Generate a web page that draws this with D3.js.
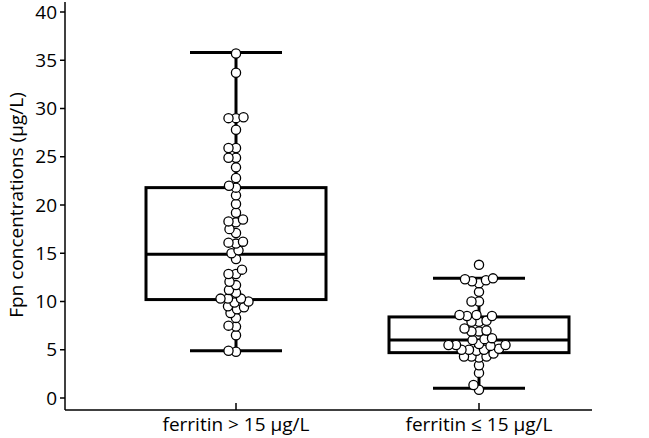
<!DOCTYPE html>
<html><head><meta charset="utf-8">
<script src="https://cdn.jsdelivr.net/npm/d3@7"></script>
<style>body{margin:0;background:#fff}svg{display:block}</style>
</head><body><svg id="c" width="649" height="438"></svg>
<script>
const categories = ["ferritin > 15 μg/L", "ferritin ≤ 15 μg/L"];
const yTicks = [0,5,10,15,20,25,30,35,40];
const boxStats = [
  {q1:10.2, median:14.9, q3:21.8, lo:4.9, hi:35.8},
  {q1:4.7, median:6.0, q3:8.4, lo:1.0, hi:12.4}
];
const pointsHigh = [35.7,33.7,29.0,29.0,29.1,27.8,25.9,25.9,24.9,24.9,23.9,22.8,21.8,22.0,21.0,20.1,19.2,18.2,18.3,18.5,17.5,17.1,16.0,16.1,16.2,15.3,15.0,14.4,12.85,12.85,13.3,12.05,11.7,11.2,10.9,10.3,10.3,10.3,9.9,10.0,9.4,9.5,9.2,8.8,8.3,7.4,7.5,6.5,4.8,4.9];
const pointsLow = [13.8,12.2,12.3,12.4,12.1,11.9,11.0,10.0,10.0,8.5,8.6,8.6,8.5,7.9,7.9,8.0,7.2,6.9,6.9,7.0,6.1,6.0,6.2,5.5,5.5,5.5,5.6,5.4,5.0,5.0,5.0,5.1,4.9,4.3,4.3,4.3,4.2,4.6,3.4,2.6,1.35,0.85];
const groups = [pointsHigh, pointsLow];

const svg = d3.select("#c");
const font = "'Open Sans', sans-serif";
const fs = 19;
const y = d3.scaleLinear().domain([0,40]).range([398,12]);
const x = d3.scalePoint().domain(categories).range([236,479]);
const axisX = 65, axisY = 410, axisRight = 592;

// y axis
svg.append("line").attr("x1",axisX).attr("x2",axisX).attr("y1",2).attr("y2",axisY)
  .attr("stroke","#000").attr("stroke-width",1.5);
const yt = svg.append("g").selectAll("g").data(yTicks).join("g");
yt.append("line").attr("x1",axisX-5).attr("x2",axisX).attr("y1",d=>y(d)).attr("y2",d=>y(d))
  .attr("stroke","#000").attr("stroke-width",1.5);
yt.append("text").attr("x",axisX-8).attr("y",d=>y(d)).attr("dy","0.35em").attr("text-anchor","end")
  .attr("font-family",font).attr("font-size",fs).text(d=>d);
// x axis
svg.append("line").attr("x1",axisX).attr("x2",axisRight).attr("y1",axisY).attr("y2",axisY)
  .attr("stroke","#000").attr("stroke-width",1.5);
const xt = svg.append("g").selectAll("g").data(categories).join("g");
xt.append("line").attr("x1",d=>x(d)).attr("x2",d=>x(d)).attr("y1",axisY-7).attr("y2",axisY)
  .attr("stroke","#000").attr("stroke-width",1.5);
xt.append("text").attr("x",d=>x(d)).attr("y",axisY+21).attr("text-anchor","middle")
  .attr("font-family",font).attr("font-size",fs).text(d=>d);
svg.append("text").attr("transform",`translate(23,${(y(0)+y(40))/2}) rotate(-90)`)
  .attr("text-anchor","middle").attr("font-family",font).attr("font-size",fs)
  .text("Fpn concentrations (μg/L)");

const boxW = 180, capW = 92;
categories.forEach((c,i)=>{
  const s = boxStats[i], cx = x(c);
  const g = svg.append("g").attr("stroke","#000").attr("stroke-width",3).attr("fill","none");
  g.append("line").attr("x1",cx).attr("x2",cx).attr("y1",y(s.hi)).attr("y2",y(s.q3));
  g.append("line").attr("x1",cx).attr("x2",cx).attr("y1",y(s.q1)).attr("y2",y(s.lo));
  g.append("line").attr("x1",cx-capW/2).attr("x2",cx+capW/2).attr("y1",y(s.hi)).attr("y2",y(s.hi));
  g.append("line").attr("x1",cx-capW/2).attr("x2",cx+capW/2).attr("y1",y(s.lo)).attr("y2",y(s.lo));
  g.append("rect").attr("x",cx-boxW/2).attr("width",boxW).attr("y",y(s.q3)).attr("height",y(s.q1)-y(s.q3));
  g.append("line").attr("x1",cx-boxW/2).attr("x2",cx+boxW/2).attr("y1",y(s.median)).attr("y2",y(s.median));

  // beeswarm (overlapping allowed, as in reference)
  const r = 4.6, minD = 7.2;
  const placed = [];
  const vals = groups[i].slice().sort((a,b)=>a-b);
  vals.forEach(v=>{
    const py = y(v);
    let off = 0;
    for (let k=0;k<300;k++){
      const cand = (k%2===0?1:-1)*Math.ceil(k/2)*0.5;
      const ok = placed.every(p=> (p.x-cand)**2 + (p.y-py)**2 >= minD*minD);
      if (ok){off=cand;break;}
    }
    placed.push({x:off,y:py});
  });
  svg.append("g").selectAll("circle").data(placed).join("circle")
    .attr("cx",d=>cx+d.x).attr("cy",d=>d.y).attr("r",r)
    .attr("fill","#fff").attr("stroke","#000").attr("stroke-width",1.3);
});
</script></body></html>
